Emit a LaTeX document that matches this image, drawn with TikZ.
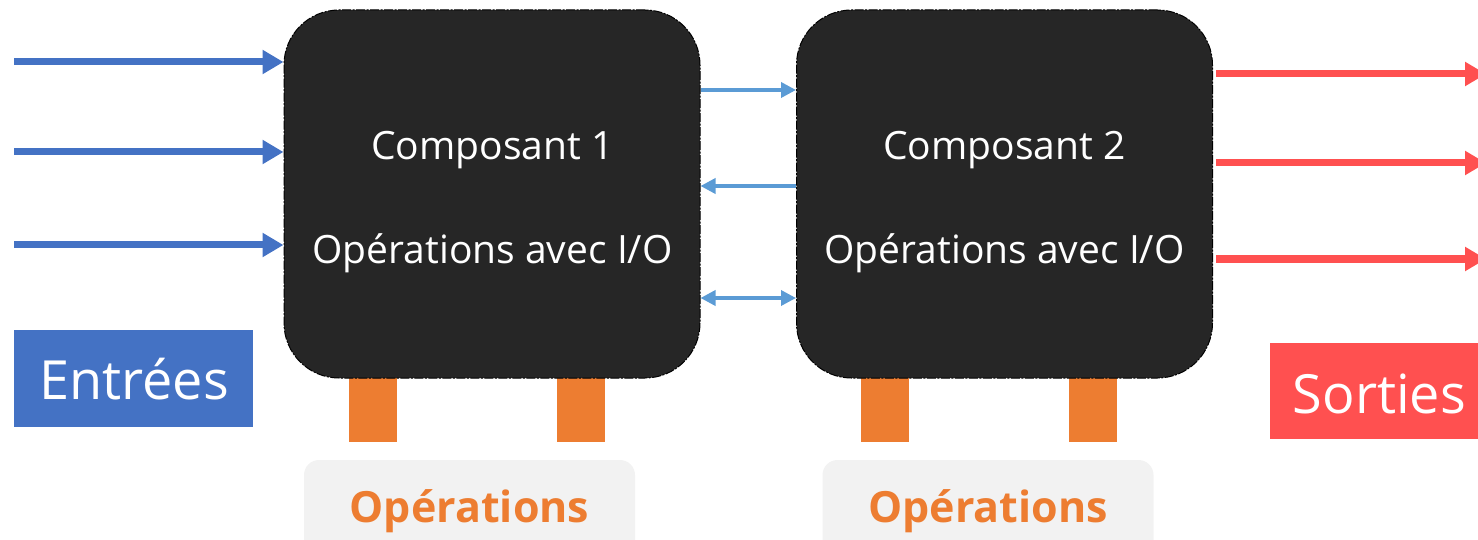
\documentclass[tikz,border=0pt]{standalone}
\usepackage{fontspec}
\setmainfont{Open Sans}
\usetikzlibrary{arrows.meta}

\definecolor{boxdark}{HTML}{262626}
\definecolor{inblue}{HTML}{4472C4}
\definecolor{linkblue}{HTML}{5B9BD5}
\definecolor{outred}{HTML}{FF5050}
\definecolor{pegorange}{HTML}{ED7D31}
\definecolor{labelgray}{HTML}{F2F2F2}

\tikzset{
  component/.style={draw=black, fill=boxdark, line width=1pt,
    dash pattern=on 9pt off 1.5pt on 2pt off 1.5pt,
    rounded corners=55pt, minimum width=416pt, minimum height=368pt,
    inner sep=0pt},
  comptext/.style={text=white, font=\fontsize{39}{44}\selectfont, anchor=base},
  peg/.style={fill=pegorange, draw=none, minimum width=48pt, minimum height=64pt,
    inner sep=0pt},
  opslabel/.style={fill=labelgray, draw=none, rounded corners=15pt,
    minimum width=331pt, minimum height=100pt, inner sep=0pt},
  opstext/.style={text=pegorange, font=\fontsize{43}{48}\selectfont\bfseries, anchor=base},
  tag/.style={draw=none, inner sep=0pt, text=white,
    font=\fontsize{54}{60}\selectfont},
  inarrow/.style={draw=inblue, line width=7pt,
    -{Triangle[length=21pt, width=23pt]}},
  outarrow/.style={draw=outred, line width=7pt,
    -{Triangle[length=21pt, width=23pt]}},
  linkarrow/.style={draw=linkblue, line width=3.5pt},
  linktip/.tip={Triangle[length=15pt, width=15pt]},
}

\begin{document}
\begin{tikzpicture}[x=1pt, y=-1pt]
  \useasboundingbox (0,0) rectangle (1478,540);

  % legs under each component
  \node[peg] (p11) at (373,410) {};
  \node[peg] (p12) at (581,410) {};
  \node[peg] (p21) at (885,410) {};
  \node[peg] (p22) at (1093,410) {};

  % components
  \node[component] (c1) at (492,194) {};
  \node[component] (c2) at (1004.5,194) {};
  \node[comptext] (c1a) at (492.5,160) {Composant 1};
  \node[comptext] (c1b) at (492.5,264) {Opérations avec I/O};
  \node[comptext] (c2a) at (1004.5,160) {Composant 2};
  \node[comptext] (c2b) at (1004.5,264) {Opérations avec I/O};

  % operation labels
  \node[opslabel] (o1) at (469.5,510) {};
  \node[opslabel] (o2) at (988,510) {};
  \node[opstext] (o1t) at (469.5,522) {Opérations};
  \node[opstext] (o2t) at (988,522) {Opérations};

  % inputs / outputs tags
  \node[tag, fill=inblue, minimum width=239pt, minimum height=97pt] (inp) at (133.5,378.5) {};
  \node[tag, anchor=base] (inpt) at (134,399) {Entrées};
  \node[tag, fill=outred, minimum width=220pt, minimum height=96pt] (outp) at (1380,391) {};
  \node[tag, anchor=base] (outpt) at (1379.5,413) {Sorties};

  % input arrows
  \coordinate (i1) at (14,62);
  \coordinate (i2) at (14,152);
  \coordinate (i3) at (14,245);
  \draw[inarrow] (i1) -- (i1 -| c1.west);
  \draw[inarrow] (i2) -- (i2 -| c1.west);
  \draw[inarrow] (i3) -- (i3 -| c1.west);

  % output arrows
  \coordinate (r1) at (1486,74);
  \coordinate (r2) at (1486,163);
  \coordinate (r3) at (1486,259);
  \draw[outarrow, shorten <=3pt] (r1 -| c2.east) -- (r1);
  \draw[outarrow, shorten <=3pt] (r2 -| c2.east) -- (r2);
  \draw[outarrow, shorten <=3pt] (r3 -| c2.east) -- (r3);

  % links between the two components
  \coordinate (m1) at (748,90);
  \coordinate (m2) at (748,186);
  \coordinate (m3) at (748,298);
  \draw[linkarrow, -linktip] (m1 -| c1.east) -- (m1 -| c2.west);
  \draw[linkarrow, linktip-] (m2 -| c1.east) -- (m2 -| c2.west);
  \draw[linkarrow, linktip-linktip] (m3 -| c1.east) -- (m3 -| c2.west);
\end{tikzpicture}
\end{document}
